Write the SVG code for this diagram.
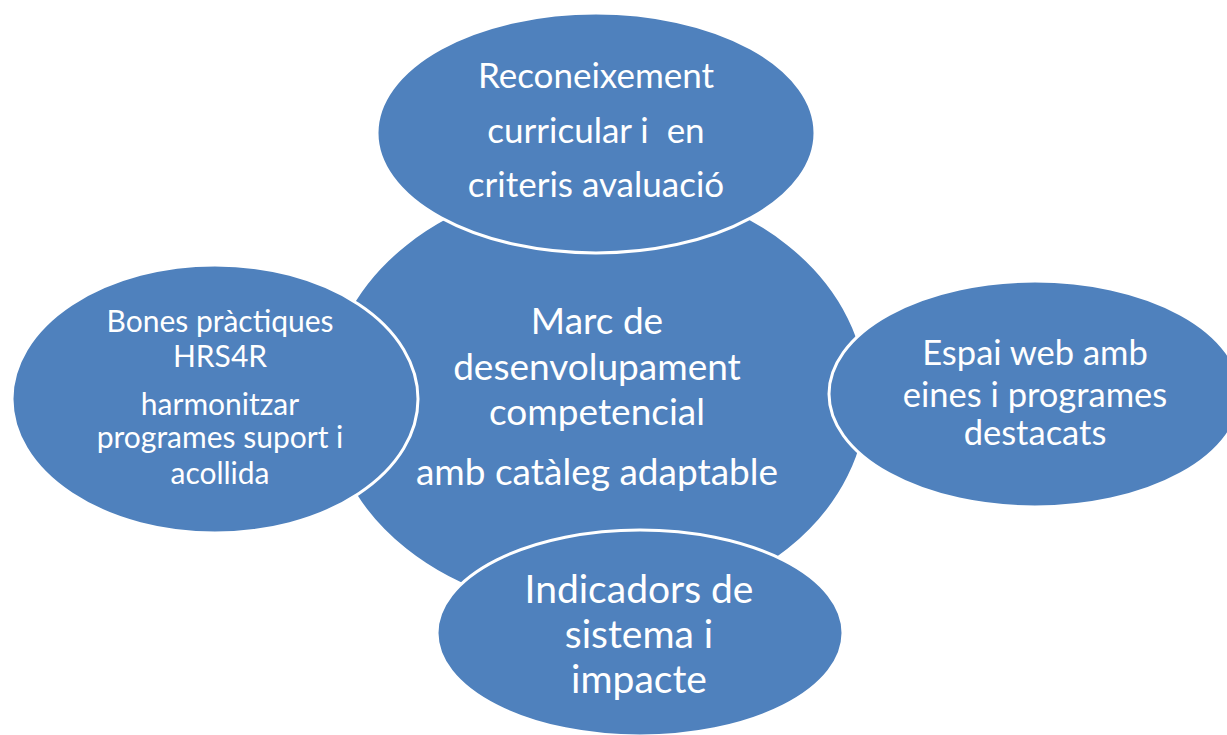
<svg xmlns="http://www.w3.org/2000/svg" width="1227" height="735" viewBox="0 0 1227 735">
<style>
.n{fill:#4F81BD;stroke:#FFFFFF;stroke-width:3}
.t{fill:#FFFFFF;font-family:Lato,"Open Sans","Liberation Sans",sans-serif;text-anchor:middle}
</style>
<rect width="1227" height="735" fill="#FFFFFF"/>
<g id="connectors"></g>
<g id="center">
<ellipse class="n" cx="597" cy="397" rx="271" ry="216"/>
<text class="t" font-size="37" x="597" y="334">Marc de</text>
<text class="t" font-size="37" x="597" y="380">desenvolupament</text>
<text class="t" font-size="37" x="597" y="425">competencial</text>
<text class="t" font-size="37" x="597" y="485">amb catàleg adaptable</text>
</g>
<g id="top">
<ellipse class="n" cx="596" cy="133" rx="219" ry="120"/>
<text class="t" font-size="35" x="596" y="88">Reconeixement</text>
<text class="t" font-size="35" x="596" y="143" xml:space="preserve">curricular i  en</text>
<text class="t" font-size="35" x="596" y="197">criteris avaluació</text>
</g>
<g id="left">
<ellipse class="n" cx="215" cy="399" rx="203" ry="134"/>
<text class="t" font-size="30" x="220" y="332">Bones pràctiques</text>
<text class="t" font-size="30" x="220" y="367">HRS4R</text>
<text class="t" font-size="30" x="220" y="415">harmonitzar</text>
<text class="t" font-size="30" x="220" y="448">programes suport i</text>
<text class="t" font-size="30" x="220" y="484">acollida</text>
</g>
<g id="right">
<ellipse class="n" cx="1035" cy="394" rx="206" ry="113"/>
<text class="t" font-size="34.5" x="1035" y="365">Espai web amb</text>
<text class="t" font-size="34.5" x="1035" y="407">eines i programes</text>
<text class="t" font-size="34.5" x="1035" y="445">destacats</text>
</g>
<g id="bottom">
<ellipse class="n" cx="640" cy="633" rx="203" ry="103"/>
<text class="t" font-size="39" x="639" y="603">Indicadors de</text>
<text class="t" font-size="39" x="639" y="648">sistema i</text>
<text class="t" font-size="39" x="639" y="693">impacte</text>
</g>
</svg>
